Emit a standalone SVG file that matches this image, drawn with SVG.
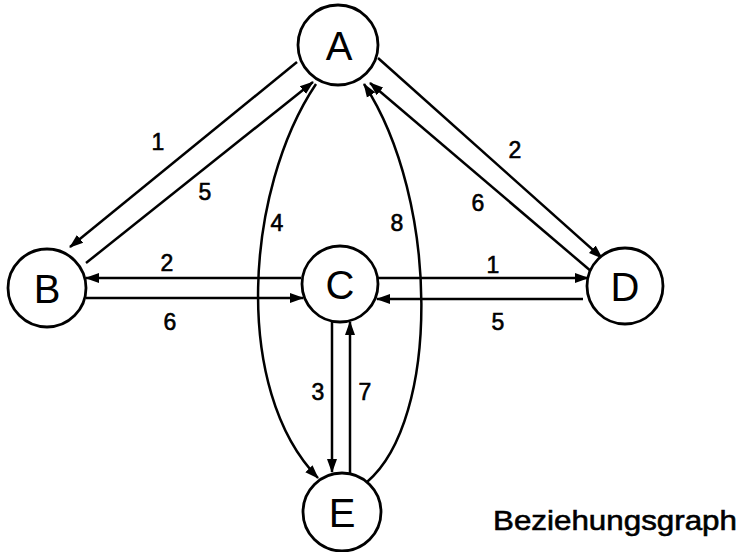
<svg xmlns="http://www.w3.org/2000/svg" width="741" height="552" viewBox="0 0 741 552">
<style>
.node{fill:#fff;stroke:#000;stroke-width:2.8}
.nl{font-family:"Liberation Sans",Arial,sans-serif;font-size:40px;text-anchor:middle;fill:#000}
.el{font-family:"Liberation Sans",Arial,sans-serif;font-size:23px;text-anchor:middle;fill:#000;stroke:#000;stroke-width:0.6}
.c{fill:none;stroke:#000;stroke-width:2.5}
.t{font-family:"Liberation Sans",Arial,sans-serif;font-size:28px;fill:#000;stroke:#000;stroke-width:0.6}
</style>
<defs>
<marker id="ah" markerUnits="userSpaceOnUse" markerWidth="14" markerHeight="12" refX="13" refY="5" orient="auto" viewBox="0 0 14 10">
<path d="M0,0 L14,5 L0,10 z" fill="#000"/>
</marker>
</defs>
<g id="connectors">
<line class="c" x1="297" y1="62" x2="70" y2="247" marker-end="url(#ah)"/>
<line class="c" x1="86" y1="263" x2="313" y2="82" marker-end="url(#ah)"/>
<line class="c" x1="378" y1="58" x2="602" y2="258" marker-end="url(#ah)"/>
<line class="c" x1="592" y1="272" x2="370" y2="83" marker-end="url(#ah)"/>
<line class="c" x1="301" y1="278" x2="86" y2="278" marker-end="url(#ah)"/>
<line class="c" x1="86" y1="298" x2="303" y2="298" marker-end="url(#ah)"/>
<line class="c" x1="378" y1="278" x2="588" y2="278" marker-end="url(#ah)"/>
<line class="c" x1="583" y1="299" x2="377" y2="299" marker-end="url(#ah)"/>
<line class="c" x1="332" y1="322" x2="332" y2="472" marker-end="url(#ah)"/>
<line class="c" x1="350" y1="474" x2="350" y2="322" marker-end="url(#ah)"/>
<path class="c" d="M316,84 C245,190 232,390 318,478" marker-end="url(#ah)"/>
<path class="c" d="M367,482 C440,420 440,200 364,84" marker-end="url(#ah)"/>
<text class="el" x="158" y="150">1</text>
<text class="el" x="205" y="200">5</text>
<text class="el" x="515" y="158">2</text>
<text class="el" x="478" y="211">6</text>
<text class="el" x="167" y="271">2</text>
<text class="el" x="170" y="330">6</text>
<text class="el" x="493" y="273">1</text>
<text class="el" x="498" y="330">5</text>
<text class="el" x="318" y="400">3</text>
<text class="el" x="365" y="400">7</text>
<text class="el" x="277" y="231">4</text>
<text class="el" x="397" y="231">8</text>
</g>
<g id="node-A"><circle class="node" cx="338" cy="45" r="40"/><text class="nl" x="339" y="60">A</text></g>
<g id="node-B"><circle class="node" cx="47" cy="288" r="39"/><text class="nl" x="47" y="303">B</text></g>
<g id="node-C"><circle class="node" cx="340" cy="284" r="38"/><text class="nl" x="340" y="299">C</text></g>
<g id="node-D"><circle class="node" cx="625" cy="286" r="38"/><text class="nl" x="625" y="301">D</text></g>
<g id="node-E"><circle class="node" cx="342" cy="512" r="39"/><text class="nl" x="342" y="527">E</text></g>
<text class="t" x="493" y="530" textLength="244" lengthAdjust="spacingAndGlyphs">Beziehungsgraph</text>
</svg>
